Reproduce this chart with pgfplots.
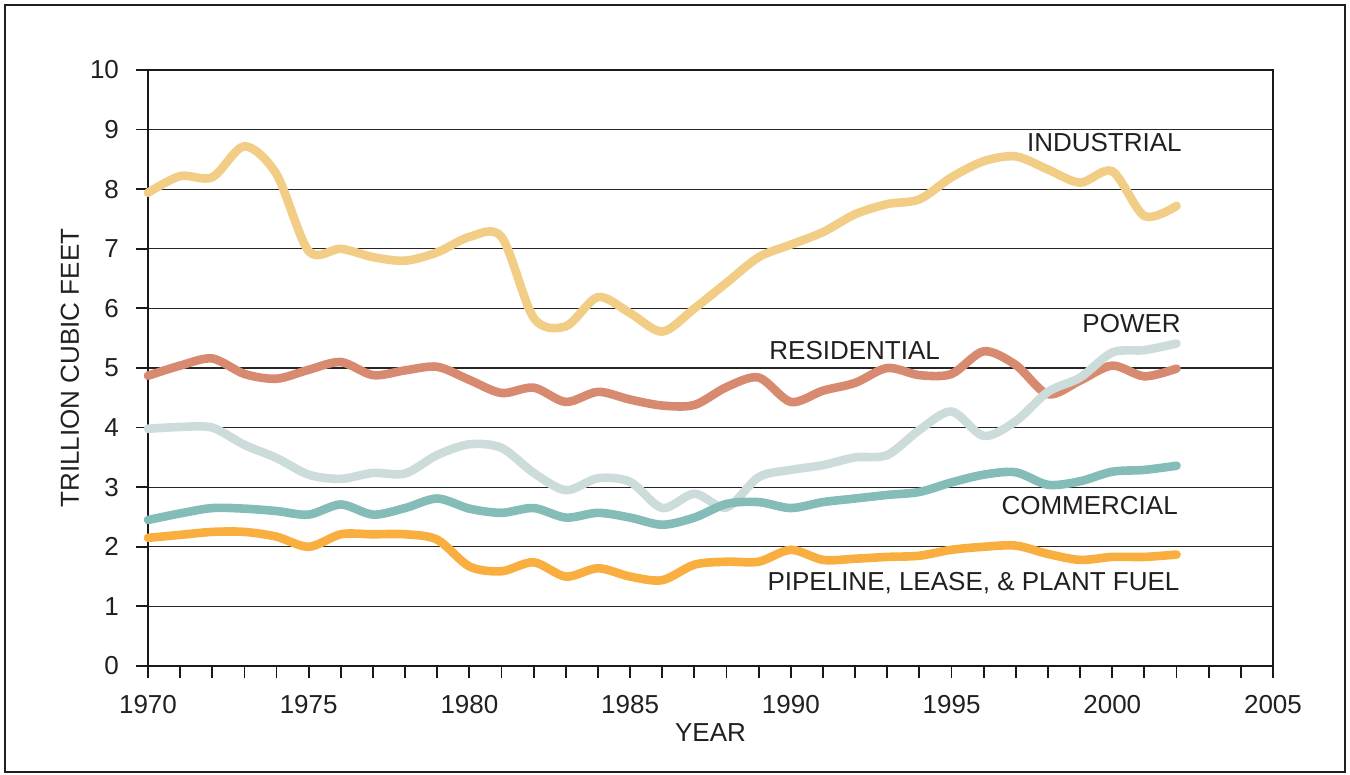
\documentclass[border=0pt]{standalone}
\usepackage{fontspec}
\setmainfont{Liberation Sans}
\usepackage{pgfplots}
\pgfplotsset{compat=1.18}
\definecolor{indc}{RGB}{242,205,133}
\definecolor{resc}{RGB}{216,138,112}
\definecolor{powc}{RGB}{204,220,218}
\definecolor{comc}{RGB}{132,189,183}
\definecolor{pipc}{RGB}{249,174,64}
\definecolor{txtc}{RGB}{35,31,32}
\begin{document}
\begin{tikzpicture}[x=1pt,y=1pt]
\useasboundingbox (-74,-54.5) rectangle (601,333);
\draw[line width=0.8pt, txtc] (-71.5,-53) rectangle (598.5,330.5);
\begin{axis}[
  scale only axis, width=562.5pt, height=298pt, at={(0,0)}, anchor=south west,
  xmin=1970, xmax=2005, ymin=0, ymax=10,
  xtick={1970,1975,...,2005}, minor xtick={1970,...,2005}, ytick={0,1,...,10},
  xtick pos=bottom, ytick pos=left,
  ymajorgrids, grid style={black!85, line width=0.6pt},
  tick align=outside, major tick length=6pt, minor tick length=6pt,
  tick style={black!90, line width=0.9pt},
  axis line style={black!90, line width=1.2pt},
  tick label style={font=\fontsize{13}{15}\selectfont, text=txtc},
  yticklabel style={xshift=-5pt},
  xticklabel style={yshift=-5pt},
  /pgf/number format/assume math mode=true,
  /pgf/number format/set thousands separator={},
  xlabel={YEAR}, ylabel={TRILLION CUBIC FEET},
  label style={font=\fontsize{13}{15}\selectfont, text=txtc},
  x label style={at={(axis description cs:0.5,-0.1124)}, anchor=center},
  y label style={at={(axis description cs:-0.0693,0.5)}, anchor=center, rotate=0},
  clip=false,
]
\addplot[indc, line width=4.3pt, smooth, line cap=round] coordinates {
(1970,7.94)(1971,8.22)(1972,8.2)(1973,8.72)(1974,8.25)(1975,6.96)(1976,7.0)(1977,6.86)(1978,6.8)(1979,6.94)(1980,7.2)(1981,7.2)(1982,5.84)(1983,5.7)(1984,6.19)(1985,5.92)(1986,5.61)(1987,6.0)(1988,6.43)(1989,6.86)(1990,7.07)(1991,7.28)(1992,7.58)(1993,7.75)(1994,7.83)(1995,8.2)(1996,8.47)(1997,8.55)(1998,8.33)(1999,8.11)(2000,8.3)(2001,7.55)(2002,7.72)};
\addplot[resc, line width=4.3pt, smooth, line cap=round] coordinates {
(1970,4.87)(1971,5.04)(1972,5.16)(1973,4.9)(1974,4.82)(1975,4.97)(1976,5.1)(1977,4.88)(1978,4.96)(1979,5.02)(1980,4.8)(1981,4.58)(1982,4.67)(1983,4.43)(1984,4.6)(1985,4.47)(1986,4.37)(1987,4.38)(1988,4.68)(1989,4.84)(1990,4.43)(1991,4.62)(1992,4.75)(1993,5.0)(1994,4.88)(1995,4.9)(1996,5.28)(1997,5.05)(1998,4.56)(1999,4.79)(2000,5.04)(2001,4.86)(2002,4.99)};
\addplot[powc, line width=4.3pt, smooth, line cap=round] coordinates {
(1970,3.98)(1971,4.01)(1972,4.0)(1973,3.71)(1974,3.49)(1975,3.21)(1976,3.14)(1977,3.24)(1978,3.23)(1979,3.54)(1980,3.72)(1981,3.66)(1982,3.24)(1983,2.95)(1984,3.15)(1985,3.09)(1986,2.65)(1987,2.89)(1988,2.66)(1989,3.17)(1990,3.29)(1991,3.37)(1992,3.5)(1993,3.54)(1994,3.96)(1995,4.27)(1996,3.86)(1997,4.11)(1998,4.6)(1999,4.84)(2000,5.26)(2001,5.3)(2002,5.41)};
\addplot[comc, line width=4.3pt, smooth, line cap=round] coordinates {
(1970,2.45)(1971,2.56)(1972,2.65)(1973,2.64)(1974,2.6)(1975,2.54)(1976,2.71)(1977,2.54)(1978,2.65)(1979,2.81)(1980,2.64)(1981,2.57)(1982,2.65)(1983,2.49)(1984,2.57)(1985,2.49)(1986,2.37)(1987,2.49)(1988,2.72)(1989,2.75)(1990,2.65)(1991,2.75)(1992,2.81)(1993,2.87)(1994,2.92)(1995,3.08)(1996,3.21)(1997,3.25)(1998,3.04)(1999,3.1)(2000,3.26)(2001,3.29)(2002,3.36)};
\addplot[pipc, line width=4.3pt, smooth, line cap=round] coordinates {
(1970,2.15)(1971,2.2)(1972,2.25)(1973,2.25)(1974,2.17)(1975,2.0)(1976,2.21)(1977,2.21)(1978,2.21)(1979,2.12)(1980,1.67)(1981,1.59)(1982,1.74)(1983,1.5)(1984,1.64)(1985,1.5)(1986,1.44)(1987,1.7)(1988,1.75)(1989,1.75)(1990,1.95)(1991,1.78)(1992,1.8)(1993,1.83)(1994,1.85)(1995,1.95)(1996,2.0)(1997,2.02)(1998,1.88)(1999,1.78)(2000,1.83)(2001,1.83)(2002,1.87)};
\node[anchor=east, inner sep=0pt, text=txtc, font=\fontsize{13}{15}\selectfont] at (axis cs:2002.17,8.79) {INDUSTRIAL};
\node[anchor=east, inner sep=0pt, text=txtc, font=\fontsize{13}{15}\selectfont] at (axis cs:2002.14,5.74) {POWER};
\node[anchor=west, inner sep=0pt, text=txtc, font=\fontsize{13}{15}\selectfont] at (axis cs:1989.32,5.30) {RESIDENTIAL};
\node[anchor=east, inner sep=0pt, text=txtc, font=\fontsize{13}{15}\selectfont] at (axis cs:2002.05,2.70) {COMMERCIAL};
\node[anchor=east, inner sep=0pt, text=txtc, font=\fontsize{13}{15}\selectfont] at (axis cs:2002.1,1.39) {PIPELINE, LEASE, \& PLANT FUEL};
\end{axis}
\end{tikzpicture}
\end{document}
